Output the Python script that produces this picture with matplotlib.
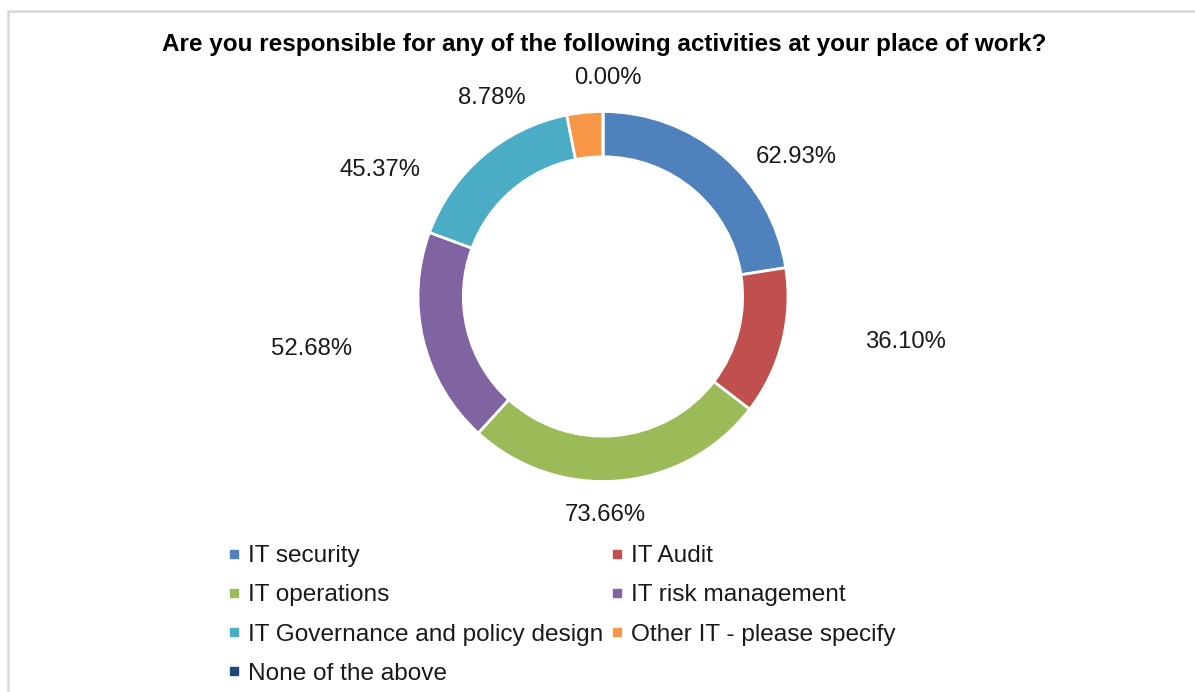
import matplotlib
matplotlib.use('Agg')
import matplotlib.pyplot as plt
from matplotlib.lines import Line2D
from matplotlib.patches import Rectangle

plt.rcParams['font.family'] = ['Liberation Sans', 'DejaVu Sans']

title = 'Are you responsible for any of the following activities at your place of work?'
categories = ['IT security', 'IT Audit', 'IT operations', 'IT risk management',
              'IT Governance and policy design', 'Other IT - please specify',
              'None of the above']
values = [62.93, 36.10, 73.66, 52.68, 45.37, 8.78, 0.00]
colors = ['#4F81BD', '#C0504D', '#9BBB59', '#8064A2', '#4BACC6', '#F79646', '#1F497D']

# label anchors in pixel space (x, y from top)
label_pos = [(796, 157), (906, 342), (605, 515), (312, 349), (380, 170), (492, 98), (608, 78)]

W, H = 1195, 692
fig = plt.figure(figsize=(W / 100, H / 100), dpi=100)
ax = fig.add_axes([0, 0, 1, 1])

# outer frame, only top and left edge fall inside the image
ax.add_patch(Rectangle((8, -20), W + 40, H - 11 + 20, fill=False,
                       edgecolor='#D9D9D9', linewidth=1.8, clip_on=False))

cx, cy, r = 603, H - 296.5, 185
wedges, _ = ax.pie(values, colors=colors, startangle=90, counterclock=False,
                   radius=r, center=(cx, cy), frame=True,
                   wedgeprops=dict(width=r * 0.245, edgecolor='white', linewidth=2))
ax.set_xlim(0, W)
ax.set_ylim(0, H)
ax.set_aspect('equal')
ax.axis('off')

for v, (lx, ly) in zip(values, label_pos):
    ax.text(lx, H - ly, f'{v:.2f}%', ha='center', va='center', fontsize=17.2, color='#1a1a1a')

ax.text(604, H - 45, title, ha='center', va='center', fontsize=17.5,
        fontweight='bold', color='black')

handles = [Line2D([], [], marker='s', linestyle='none', markersize=5.5,
                  markerfacecolor=c, markeredgecolor=c) for c in colors]
order = [0, 2, 4, 6, 1, 3, 5]
leg = fig.legend([handles[i] for i in order], [categories[i] for i in order],
                 ncol=2, loc='upper left', bbox_to_anchor=(228 / W, 1 - 545 / H),
                 frameon=False, fontsize=17.6, handlelength=0.5, handletextpad=0.3,
                 columnspacing=0.35, labelspacing=0.7, borderpad=0, borderaxespad=0)
for t in leg.get_texts():
    t.set_color('#1a1a1a')

fig.savefig('out.png', dpi=100)
